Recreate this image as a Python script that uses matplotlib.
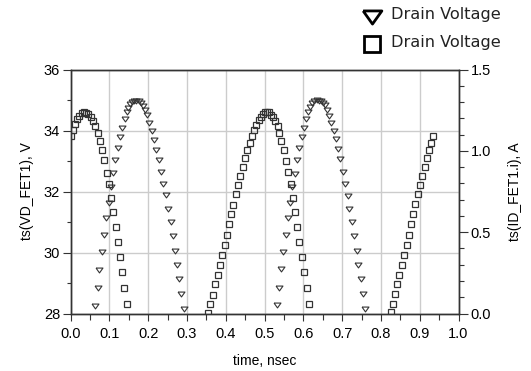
import numpy as np
import matplotlib.pyplot as plt
from matplotlib.lines import Line2D
from matplotlib.ticker import MultipleLocator

# Drain voltage samples (left axis, V) - triangles
t_vd = [0.063, 0.070, 0.074, 0.081, 0.086, 0.092, 0.098, 0.104, 0.110, 0.115,
        0.122, 0.128, 0.134, 0.140, 0.145, 0.149, 0.153, 0.159, 0.164, 0.170,
        0.176, 0.181, 0.186, 0.192, 0.198, 0.202, 0.209, 0.216, 0.221, 0.228,
        0.233, 0.239, 0.245, 0.252, 0.258, 0.263, 0.269, 0.274, 0.280, 0.286, 0.292,
        0.531, 0.538, 0.543, 0.548, 0.555, 0.561, 0.566, 0.572, 0.578, 0.584,
        0.590, 0.596, 0.601, 0.607, 0.613, 0.618, 0.623, 0.628, 0.635, 0.640,
        0.645, 0.650, 0.655, 0.660, 0.667, 0.672, 0.678, 0.685, 0.690, 0.695,
        0.702, 0.708, 0.714, 0.719, 0.726, 0.731, 0.738, 0.742, 0.748, 0.755, 0.760]
vd = [28.26, 28.82, 29.43, 30.01, 30.58, 31.13, 31.63, 32.16, 32.61, 33.03,
      33.42, 33.78, 34.09, 34.37, 34.60, 34.75, 34.87, 34.92, 34.97, 34.98,
      34.96, 34.89, 34.81, 34.67, 34.50, 34.24, 33.99, 33.69, 33.36, 33.03,
      32.64, 32.26, 31.87, 31.44, 31.01, 30.55, 30.06, 29.59, 29.12, 28.64, 28.16,
      28.28, 28.85, 29.45, 30.03, 30.58, 31.12, 31.63, 32.14, 32.57, 33.04,
      33.44, 33.78, 34.09, 34.37, 34.60, 34.78, 34.89, 34.96, 34.99, 34.97,
      34.96, 34.91, 34.84, 34.67, 34.49, 34.26, 34.00, 33.71, 33.39, 33.05,
      32.65, 32.26, 31.86, 31.44, 31.01, 30.55, 30.06, 29.59, 29.12, 28.64, 28.16]

# Drain current samples (right axis, A) - squares
t_id = [0.000, 0.006, 0.012, 0.017, 0.023, 0.029, 0.035, 0.041, 0.046, 0.052,
        0.058, 0.064, 0.070, 0.075, 0.081, 0.087, 0.093, 0.099, 0.104, 0.110,
        0.116, 0.122, 0.128, 0.133, 0.139, 0.145,
        0.355, 0.360, 0.368, 0.372, 0.379, 0.385, 0.391, 0.398, 0.403, 0.409,
        0.414, 0.420, 0.427, 0.432, 0.438, 0.444, 0.451, 0.456, 0.462, 0.468,
        0.474, 0.479, 0.485, 0.490, 0.496, 0.501, 0.507, 0.512, 0.518, 0.523,
        0.528, 0.534, 0.538, 0.543, 0.550, 0.556, 0.561, 0.568, 0.573, 0.579,
        0.585, 0.590, 0.597, 0.603, 0.609, 0.615,
        0.825, 0.830, 0.837, 0.842, 0.847, 0.854, 0.859, 0.866, 0.872, 0.878,
        0.883, 0.889, 0.895, 0.901, 0.907, 0.913, 0.918, 0.925, 0.929, 0.935]
id_ = [1.093, 1.128, 1.162, 1.195, 1.217, 1.230, 1.236, 1.234, 1.226, 1.211,
       1.185, 1.150, 1.111, 1.061, 1.007, 0.942, 0.866, 0.795, 0.709, 0.621,
       0.534, 0.442, 0.348, 0.254, 0.154, 0.060,
       0.005, 0.058, 0.113, 0.179, 0.238, 0.297, 0.358, 0.419, 0.485, 0.550,
       0.611, 0.670, 0.732, 0.789, 0.846, 0.903, 0.954, 1.005, 1.050, 1.093,
       1.127, 1.160, 1.188, 1.209, 1.226, 1.236, 1.240, 1.236, 1.221, 1.205,
       1.183, 1.150, 1.111, 1.060, 1.005, 0.940, 0.867, 0.795, 0.709, 0.621,
       0.534, 0.442, 0.348, 0.254, 0.154, 0.060,
       0.007, 0.058, 0.118, 0.181, 0.238, 0.297, 0.361, 0.419, 0.485, 0.550,
       0.611, 0.672, 0.732, 0.791, 0.848, 0.901, 0.954, 1.005, 1.048, 1.093]

x_ticks = [0.0, 0.1, 0.2, 0.3, 0.4, 0.5, 0.6, 0.7, 0.8, 0.9, 1.0]
left_ticks = [28, 30, 32, 34, 36]
right_ticks = [0.0, 0.5, 1.0, 1.5]
legend_labels = ['Drain Voltage', 'Drain Voltage']

plt.rcParams['font.family'] = ['Liberation Sans', 'DejaVu Sans']

# downward triangle, a bit wider than tall like the original
tri = [(-1, 0.7), (1, 0.7), (0, -0.7), (-1, 0.7)]

fig = plt.figure(figsize=(5.31, 3.71), dpi=100)
ax = fig.add_axes([70.5 / 531, 1 - 313.5 / 371, 388 / 531, 244 / 371])
ax2 = ax.twinx()

edge = '#333333'
ax.plot(t_vd, vd, ls='none', marker=tri, mfc='none', mec=edge, ms=5, mew=0.8, zorder=3)
ax2.plot(t_id, id_, ls='none', marker='s', mfc='none', mec=edge, ms=4.4, mew=0.9, zorder=3)

ax.set_xlim(0, 1)
ax.set_ylim(28, 36)
ax2.set_ylim(0, 1.5)

ax.set_xticks(x_ticks)
ax.set_xticklabels([f'{v:.1f}' for v in x_ticks])
ax.xaxis.set_minor_locator(MultipleLocator(0.05))
ax.set_yticks(left_ticks)
ax.yaxis.set_minor_locator(MultipleLocator(1))
ax2.set_yticks(right_ticks)
ax2.set_yticklabels([f'{v:.1f}' for v in right_ticks])
ax2.yaxis.set_minor_locator(MultipleLocator(0.1))

ax.grid(True, which='major', color='#cccccc', lw=1)
ax.set_axisbelow(True)

for a in (ax, ax2):
    for s in a.spines.values():
        s.set_color(edge)
        s.set_linewidth(1)
    a.tick_params(which='both', width=0.8, color=edge, labelsize=10.5, pad=2)
ax.tick_params(axis='y', which='major', length=5.5)
ax.tick_params(axis='y', which='minor', length=3.1)
ax.tick_params(axis='x', which='major', length=5, pad=5)
ax.tick_params(axis='x', which='minor', length=4)
ax2.tick_params(axis='y', which='major', length=6.7)
ax2.tick_params(axis='y', which='minor', length=3.6)

ax.set_xlabel('time, nsec', fontsize=10, labelpad=9)
ax.set_ylabel('ts(VD_FET1), V', fontsize=10, labelpad=7)
ax2.set_ylabel('ts(ID_FET1.i), A', fontsize=10, labelpad=12)

# legend above the plot, top right
for y, mk, ms in [(16.5, tri, 13.5), (43.5, 's', 11)]:
    fig.add_artist(Line2D([372 / 531], [1 - y / 371], transform=fig.transFigure, ls='none',
                          marker=mk, mfc='none', mec='black', ms=ms, mew=2))
for y, lab in zip([15, 43], legend_labels):
    fig.text(391 / 531, 1 - y / 371, lab, ha='left', va='center', fontsize=11.6,
             family='DejaVu Sans', color='#222222')

fig.savefig('out.png', dpi=100)
